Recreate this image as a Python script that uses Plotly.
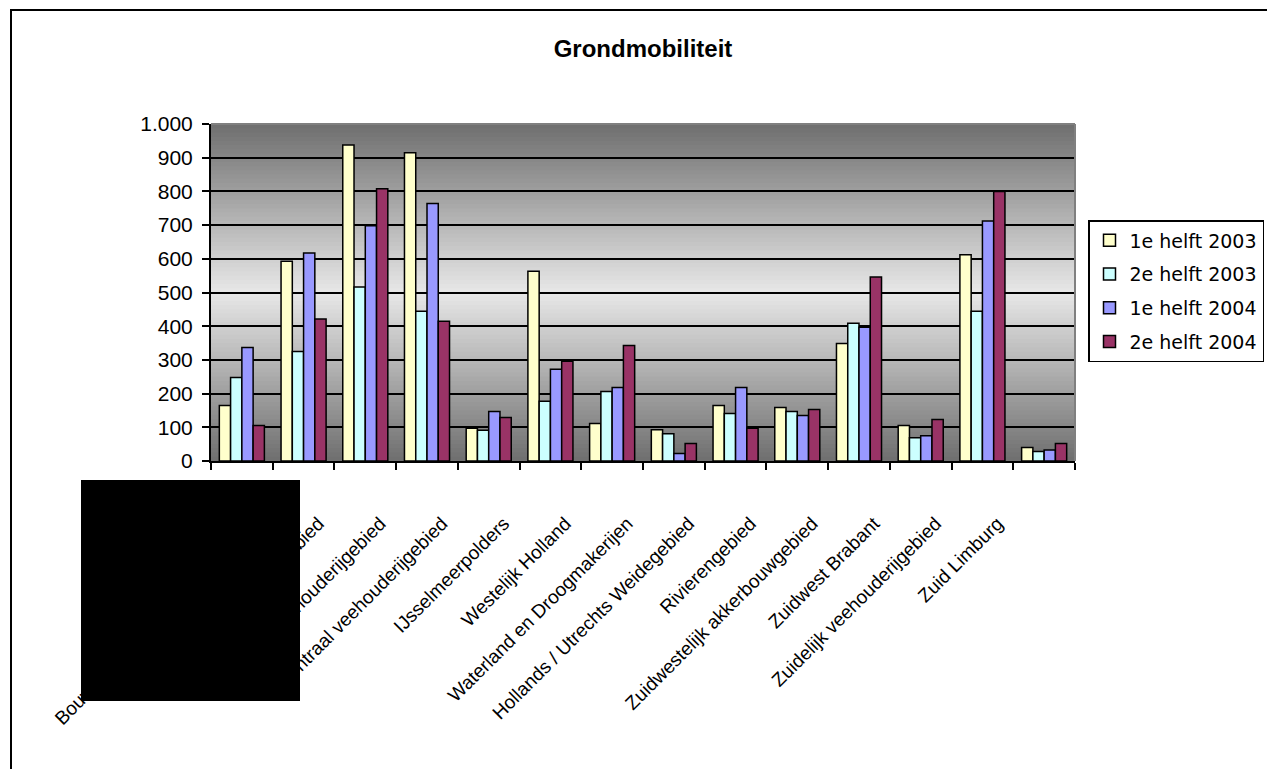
import plotly.graph_objects as go

# Regio's (laatste categorie zonder naam)
categories = [
    "Bouwhoek, Hogeland en Oldambt",
    "Noordelijk weidegebied",
    "Oostelijk veehouderijgebied",
    "Centraal veehouderijgebied",
    "IJsselmeerpolders",
    "Westelijk Holland",
    "Waterland en Droogmakerijen",
    "Hollands / Utrechts Weidegebied",
    "Rivierengebied",
    "Zuidwestelijk akkerbouwgebied",
    "Zuidwest Brabant",
    "Zuidelijk veehouderijgebied",
    "Zuid Limburg",
    " ",
]

series_names = ["1e helft 2003", "2e helft 2003", "1e helft 2004", "2e helft 2004"]

h1_2003 = [165, 593, 938, 915, 97, 563, 111, 93, 165, 159, 349, 105, 612, 40]
h2_2003 = [248, 325, 516, 444, 91, 177, 206, 81, 141, 147, 409, 69, 444, 28]
h1_2004 = [337, 617, 698, 764, 147, 272, 218, 22, 218, 135, 397, 75, 712, 33]
h2_2004 = [105, 421, 808, 415, 129, 296, 343, 52, 97, 153, 546, 123, 800, 52]

y_tickvals = [0, 100, 200, 300, 400, 500, 600, 700, 800, 900, 1000]

series_values = [h1_2003, h2_2003, h1_2004, h2_2004]
series_colors = ["#FFFFCC", "#CCFFFF", "#9999FF", "#993366"]

W, H = 1267, 769
ML, MR, MT, MB = 211, 192, 124, 308
PW, PH = W - ML - MR, H - MT - MB

fig = go.Figure()
for name, vals, col in zip(series_names, series_values, series_colors):
    fig.add_trace(go.Bar(
        x=categories, y=vals, name=name, legendgroup=name,
        marker=dict(color=col, line=dict(color="black", width=1.5)),
    ))

# Grijs verloop in het plotvlak: donker aan de randen, licht in het midden
shapes = []
n_strips = 80
dark, light = 110, 232
for i in range(n_strips):
    t = (i + 0.5) / n_strips
    g = int(round(dark + (light - dark) * (1 - abs(2 * t - 1))))
    shapes.append(dict(
        type="rect", xref="x domain", yref="y domain",
        x0=0, x1=1, y0=i / n_strips, y1=min(1, (i + 1) / n_strips + 0.006),
        fillcolor=f"rgb({g},{g},{g})", line=dict(width=0), layer="below",
    ))

# Grijze rand boven en rechts van het plotvlak
shapes.append(dict(type="line", xref="x domain", yref="y domain",
                   x0=0, x1=1, y0=1, y1=1, line=dict(color="#808080", width=2)))
shapes.append(dict(type="line", xref="x domain", yref="y domain",
                   x0=1, x1=1, y0=0, y1=1, line=dict(color="#808080", width=2)))


def px_x(px):
    return (px - ML) / PW


def px_y(py):
    return (H - MB - py) / PH


# Kader om het diagram
shapes.append(dict(type="rect", xref="paper", yref="paper",
                   x0=px_x(11), x1=px_x(1275), y0=px_y(780), y1=px_y(10),
                   line=dict(color="black", width=2), fillcolor="rgba(0,0,0,0)"))
# Zwart vlak over een deel van de labels
shapes.append(dict(type="rect", xref="paper", yref="paper",
                   x0=px_x(81), x1=px_x(300), y0=px_y(701), y1=px_y(480),
                   line=dict(width=0), fillcolor="black", layer="above"))

fig.update_layout(
    width=W, height=H,
    margin=dict(l=ML, r=MR, t=MT, b=MB, pad=0, autoexpand=False),
    paper_bgcolor="white",
    plot_bgcolor="rgba(0,0,0,0)",
    barmode="group", bargap=0.27, bargroupgap=0,
    separators=",.",
    font=dict(family="Liberation Sans, Arial", color="black"),
    title=dict(text="Grondmobiliteit", x=0.5, xref="paper", xanchor="center",
               y=1 - 49 / H, yref="container", yanchor="middle",
               font=dict(size=24, weight="bold", family="Liberation Sans, Arial")),
    shapes=shapes,
    showlegend=True,
    legend=dict(x=px_x(1088), y=px_y(220), xanchor="left", yanchor="top",
                bgcolor="white", bordercolor="black", borderwidth=1.5,
                font=dict(size=19, family="DejaVu Sans"),
                tracegroupgap=6, traceorder="grouped"),
    xaxis=dict(type="category", range=[-0.5, len(categories) - 0.5],
               showline=True, linecolor="black", linewidth=2,
               ticks="outside", tickson="boundaries", ticklen=7,
               tickcolor="black", tickwidth=1.5,
               tickangle=-45, tickfont=dict(size=19),
               ticklabelstandoff=42, ticklabelshift=15, showgrid=False),
    yaxis=dict(range=[0, 1000], tickvals=y_tickvals, tickformat=",d",
               showline=True, linecolor="black", linewidth=2,
               ticks="outside", ticklen=7, tickcolor="black", tickwidth=1.5,
               tickfont=dict(size=21), ticklabelstandoff=5,
               showgrid=True, gridcolor="black", gridwidth=1.5,
               zeroline=False),
)

fig.write_html("out.html")
